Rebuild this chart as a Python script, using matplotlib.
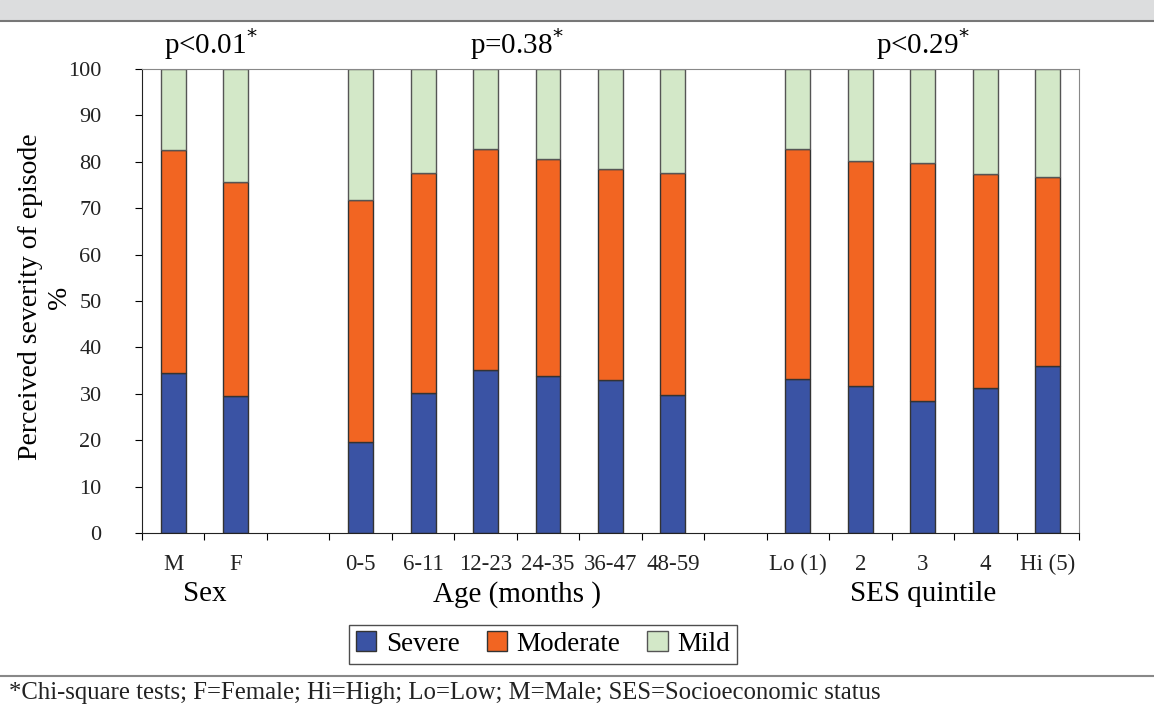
import numpy as np
import matplotlib.pyplot as plt
from matplotlib.patches import Rectangle

plt.rcParams['font.family'] = ['Liberation Serif', 'DejaVu Serif']

categories = ['M', 'F', '', '0-5', '6-11', '12-23', '24-35', '36-47', '48-59', '',
              'Lo (1)', '2', '3', '4', 'Hi (5)']
severe = [34.4, 29.5, np.nan, 19.7, 30.1, 35.2, 33.9, 33.0, 29.7, np.nan,
          33.3, 31.7, 28.5, 31.3, 35.9]
moderate_top = [82.5, 75.6, np.nan, 71.7, 77.5, 82.7, 80.5, 78.5, 77.5, np.nan,
                82.8, 80.2, 79.8, 77.3, 76.6]
groups = ['Sex', 'Age (months )', 'SES quintile']
group_centers = [0.5, 5.5, 12.0]
pvalues = ['p<0.01$^{*}$', 'p=0.38$^{*}$', 'p<0.29$^{*}$']
footnote = '*Chi-square tests; F=Female; Hi=High; Lo=Low; M=Male; SES=Socioeconomic status'

sev = np.array(severe)
mod = np.array(moderate_top) - sev
mild = 100 - np.array(moderate_top)
x = np.arange(len(categories))

fig = plt.figure(figsize=(11.54, 7.09), dpi=100)
ax = fig.add_axes([0.123, 0.248, 0.812, 0.655])

c_sev, c_mod, c_mild = '#3A53A4', '#F26522', '#D3E8C8'
w = 0.4
ax.bar(x, sev, w, color=c_sev, edgecolor='#333333', linewidth=1, label='Severe')
ax.bar(x, mod, w, bottom=sev, color=c_mod, edgecolor='#333333', linewidth=1, label='Moderate')
ax.bar(x, mild, w, bottom=sev + mod, color=c_mild, edgecolor='#555555', linewidth=1, label='Mild')

ax.set_xlim(-0.5, len(categories) - 0.5)
ax.set_ylim(0, 100)
ax.set_yticks(range(0, 101, 10))
ax.tick_params(axis='y', direction='out', length=5, labelsize=16, pad=24, labelcolor='#222222')
ax.set_xticks(np.arange(-0.5, len(categories), 1))
ax.set_xticklabels([])
ax.tick_params(axis='x', direction='out', length=5)
for xi, lab in zip(x, categories):
    ax.text(xi, -6.7, lab, ha='center', va='center', fontsize=16.5, color='#222222')

for s in ['top', 'right']:
    ax.spines[s].set_color('#888888')
ax.spines['left'].set_color('#222222')
ax.spines['bottom'].set_color('#222222')

fig.text(0.039, 0.581, 'Perceived severity of episode\n%', rotation=90, fontsize=20,
         ha='center', va='center', multialignment='center', linespacing=1.25)

for gc, g in zip(group_centers, groups):
    ax.text(gc, -13.2, g, ha='center', va='center', fontsize=21)
for gc, p in zip(group_centers, pvalues):
    ax.text(gc + (0.1 if gc == 0.5 else 0), 105.3, p, ha='center', va='center', fontsize=21)

leg = ax.legend(loc='upper center', bbox_to_anchor=(0.428, -0.168), ncol=3, fontsize=19.5,
                frameon=True, fancybox=False, edgecolor='#222222', handlelength=0.75,
                handleheight=0.75, handletextpad=0.35, columnspacing=1.0, borderpad=0.25)
leg.get_frame().set_linewidth(1)

# caption band at top and footnote rule
fig.patches.append(Rectangle((0, 0.972), 1, 0.028, transform=fig.transFigure,
                             color='#DCDDDE', zorder=0))
fig.add_artist(plt.Line2D([0, 1], [0.971, 0.971], transform=fig.transFigure,
                          color='#777777', linewidth=1.5))
fig.add_artist(plt.Line2D([0, 1], [0.047, 0.047], transform=fig.transFigure,
                          color='#888888', linewidth=1.5))
fig.text(0.008, 0.022, footnote, fontsize=17.8, ha='left', va='center', color='#222222')

fig.savefig('out.png', dpi=100)
